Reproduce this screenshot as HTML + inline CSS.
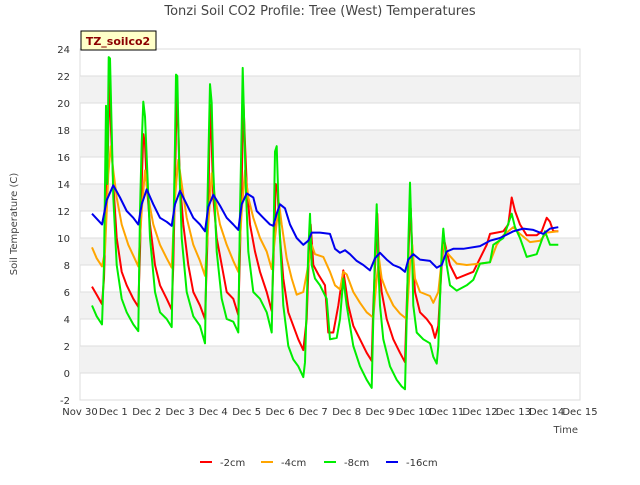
<!DOCTYPE html>
<html><head><meta charset="utf-8"><style>
body{margin:0;background:#fff;font-family:"Liberation Sans",sans-serif;}
svg text{font-family:"DejaVu Sans","Liberation Sans",sans-serif;}
</style></head><body>
<svg id="chart" width="640" height="480" xmlns="http://www.w3.org/2000/svg">
<text x="320" y="15" text-anchor="middle" font-size="13" fill="#444">Tonzi Soil CO2 Profile: Tree (West) Temperatures</text>
<text transform="translate(17,224) rotate(-90)" text-anchor="middle" font-size="10" fill="#444">Soil Temperature (C)</text>
<text x="578" y="433" text-anchor="end" font-size="10" fill="#444">Time</text>
<g id="bands"></g>
<g id="yticks"></g>
<g id="xticks"></g>
<g id="series"></g>
<rect x="81" y="31" width="75" height="19" fill="#ffffc8" stroke="#000" stroke-width="1"/>
<text x="118" y="45" text-anchor="middle" font-size="11" font-weight="bold" fill="#8b0000">TZ_soilco2</text>
<g id="legend"></g>
</svg>
<script>
const xTickLabels=["Nov 30","Dec 1","Dec 2","Dec 3","Dec 4","Dec 5","Dec 6","Dec 7","Dec 8","Dec 9","Dec 10","Dec 11","Dec 12","Dec 13","Dec 14","Dec 15"];
const yTicks=[-2,0,2,4,6,8,10,12,14,16,18,20,22,24];
const seriesNames=["-2cm","-4cm","-8cm","-16cm"];
const redDays=[0.36,0.5,0.66,0.72,0.8,0.84,0.88,0.93,1.0,1.1,1.25,1.4,1.6,1.75,1.8,1.85,1.9,1.95,2.0,2.1,2.25,2.4,2.6,2.75,2.8,2.85,2.9,2.95,3.0,3.1,3.25,3.4,3.6,3.75,3.8,3.85,3.9,3.95,4.0,4.1,4.25,4.4,4.6,4.75,4.8,4.85,4.9,4.95,5.0,5.1,5.25,5.4,5.6,5.75,5.8,5.87,5.92,6.0,6.1,6.25,6.4,6.55,6.7,6.8,6.87,6.92,7.0,7.15,7.35,7.45,7.6,7.75,7.9,8.05,8.2,8.4,8.6,8.75,8.8,8.87,8.92,8.97,9.05,9.2,9.4,9.6,9.75,9.8,9.87,9.92,9.97,10.05,10.2,10.4,10.55,10.65,10.75,10.85,10.92,11.0,11.1,11.3,11.6,11.8,12.0,12.2,12.3,12.5,12.7,12.85,12.95,13.05,13.2,13.4,13.7,13.85,14.0,14.1,14.2,14.35];
const redVals=[6.4,5.8,5.1,7,14,16.8,22,18,14,10,7.5,6.5,5.5,4.9,9,14,17.7,17,14,11,8,6.5,5.5,4.7,8,14,20.9,18,14,11,8,6,5,4.0,8,12,19.9,17,13,10,8,6,5.5,4.3,9,14,20.4,17,14,11,9,7.5,6,4.6,8,14,13.8,10,7,4.5,3.5,2.5,1.7,4,9,11,8,7.3,6.5,3.0,3.0,5,7.6,5,3.5,2.5,1.5,0.9,5,9,11.8,8,6,4,2.5,1.5,0.8,5,10,12.2,9,6,4.5,4,3.5,2.6,3.5,8,9.9,9,8,7.0,7.3,7.5,8.5,9.5,10.3,10.4,10.5,11,13,12,11,10.2,10.2,10.5,11.5,11.2,10.5,10.5];
const orangeDays=[0.36,0.5,0.66,0.75,0.85,0.92,1.0,1.1,1.25,1.45,1.6,1.75,1.85,1.95,2.05,2.2,2.4,2.6,2.75,2.85,2.95,3.05,3.2,3.4,3.6,3.75,3.85,3.95,4.05,4.2,4.4,4.6,4.75,4.85,4.95,5.05,5.2,5.4,5.6,5.75,5.85,5.97,6.05,6.2,6.35,6.5,6.7,6.85,6.95,7.05,7.3,7.5,7.65,7.8,7.9,8.0,8.2,8.4,8.6,8.8,8.9,8.97,9.05,9.2,9.4,9.6,9.8,9.9,9.97,10.05,10.2,10.5,10.6,10.75,10.9,11.05,11.3,11.6,12.0,12.3,12.5,12.7,13.0,13.2,13.5,13.8,14.0,14.35];
const orangeVals=[9.3,8.5,7.9,9,14.7,16.8,15,13,11,9.5,8.7,7.9,12,15,13,11,9.5,8.5,7.8,13,15.8,14,11.5,9.5,8.3,7.2,11,14.8,13,11,9.5,8.3,7.5,12,15,13,11.5,10,9,7.7,10,12.6,11,8.5,7,5.8,6,8,9.5,8.8,8.6,7.5,6.5,6.2,7.5,7.3,6.0,5.2,4.5,4.1,7,8.5,7,6,5,4.4,4.0,8,9.5,7,6,5.7,5.2,6,9.5,8.8,8.1,8.0,8.1,8.2,9.5,10.2,10.8,10.3,9.7,9.8,10.4,10.5];
const greenDays=[0.36,0.5,0.66,0.72,0.78,0.82,0.86,0.9,0.95,1.0,1.1,1.25,1.4,1.6,1.75,1.8,1.85,1.9,1.95,2.0,2.1,2.25,2.4,2.6,2.75,2.8,2.85,2.88,2.92,2.97,3.05,3.2,3.4,3.6,3.75,3.8,3.85,3.9,3.95,4.0,4.1,4.25,4.4,4.6,4.75,4.8,4.85,4.88,4.92,4.97,5.05,5.2,5.4,5.6,5.75,5.8,5.85,5.9,5.95,6.0,6.1,6.25,6.4,6.55,6.7,6.75,6.8,6.85,6.9,6.95,7.05,7.2,7.4,7.5,7.7,7.8,7.9,8.0,8.2,8.4,8.6,8.75,8.8,8.85,8.9,8.95,9.0,9.1,9.3,9.5,9.65,9.75,9.8,9.85,9.9,9.95,10.0,10.1,10.3,10.5,10.6,10.7,10.75,10.85,10.9,11.0,11.1,11.3,11.6,11.8,12.0,12.3,12.4,12.7,12.95,13.05,13.2,13.4,13.7,13.95,14.1,14.35];
const greenVals=[5.0,4.2,3.6,8,19.8,14,23.4,23.3,18,13,8,5.5,4.5,3.6,3.1,12,17,20.1,19,16,10,6,4.5,4.0,3.4,10,17,22.1,22,16,10,6,4.2,3.5,2.2,10,15.6,21.4,20,15,9,5.5,4.0,3.8,3.0,12,18.2,22.6,19,14,9,6,5.5,4.5,3.0,9,16.4,16.8,13,10,5,2,1,0.5,-0.3,0.8,5,9,11.8,8,7,6.5,5.5,2.5,2.6,4,7,5,2,0.5,-0.5,-1.1,4,9,12.5,8,5,2.5,0.5,-0.5,-1.0,-1.2,4,9.5,14.1,10,5,3,2.5,2.2,1.2,0.7,2,9,10.7,8,6.5,6.1,6.5,6.9,8.1,8.2,9.5,10.0,11.8,10.8,10,8.6,8.8,10.5,9.5,9.5];
const blueDays=[0.36,0.55,0.66,0.8,1.0,1.2,1.4,1.6,1.75,1.85,2.0,2.2,2.4,2.6,2.75,2.85,3.0,3.2,3.4,3.6,3.75,3.85,4.0,4.2,4.4,4.6,4.75,4.85,5.0,5.2,5.3,5.5,5.7,5.8,5.9,6.0,6.15,6.3,6.5,6.7,6.85,6.95,7.2,7.5,7.65,7.8,7.95,8.1,8.3,8.5,8.7,8.85,9.0,9.2,9.4,9.6,9.75,9.85,10.0,10.2,10.5,10.7,10.85,11.0,11.2,11.5,12.0,12.3,12.6,13.0,13.3,13.6,13.9,14.1,14.35];
const blueVals=[11.8,11.3,11.0,12.8,13.9,13,12,11.5,11.0,12.5,13.6,12.5,11.5,11.2,10.9,12.5,13.5,12.5,11.5,11.0,10.5,12.3,13.2,12.4,11.5,11.0,10.6,12.5,13.3,13,12,11.5,11.0,10.9,11.8,12.5,12.2,11,10,9.5,9.8,10.4,10.4,10.3,9.2,8.9,9.1,8.8,8.3,8.0,7.6,8.5,8.9,8.4,8.0,7.8,7.5,8.4,8.8,8.4,8.3,7.8,8.0,9.0,9.2,9.2,9.4,9.8,10.0,10.5,10.7,10.6,10.3,10.7,10.8];

const NS="http://www.w3.org/2000/svg";
const L=80,R=580,T=49,B=400,yMin=-2,yMax=24,dMax=15;
function xs(d){return L+(R-L)*d/dMax;}
function ys(v){return B-(B-T)*(v-yMin)/(yMax-yMin);}
function mk(tag,attrs,parent){const e=document.createElementNS(NS,tag);for(const k in attrs)e.setAttribute(k,attrs[k]);parent.appendChild(e);return e;}

const bands=document.getElementById('bands');
const bg=mk('rect',{x:L,y:T,width:R-L,height:B-T,fill:'#fff',stroke:'#ddd'},bands);


for(let i=0;i<yTicks.length-1;i++){
  const v=yTicks[i];
  if(((v/2)%2===0)&&v<=20){
    const r=mk('rect',{x:L,y:ys(v+2),width:R-L,height:ys(v)-ys(v+2),fill:'#f2f2f2'},bands);
    
    
  }
}
const yt=document.getElementById('yticks');
yTicks.forEach(v=>{
  const ln=mk('line',{x1:L,x2:R,y1:ys(v),y2:ys(v),stroke:'#ddd','stroke-width':1},yt);
  
  
  const t=mk('text',{x:L-10,y:ys(v)+4,'text-anchor':'end','font-size':10,fill:'#333'},yt);
  t.textContent=v;
  
  
});
const xt=document.getElementById('xticks');
xTickLabels.forEach((s,i)=>{
  const t=mk('text',{x:xs(i),y:415,'text-anchor':'middle','font-size':10,fill:'#333'},xt);
  t.textContent=s;
  
  
});
const colors=['#ff0000','#ffa500','#00ee00','#0000ee'];
const data=[[redDays,redVals],[orangeDays,orangeVals],[greenDays,greenVals],[blueDays,blueVals]];
const sg=document.getElementById('series');
data.forEach((s,k)=>{
  const pts=s[0].map((d,i)=>xs(d).toFixed(1)+','+ys(s[1][i]).toFixed(1)).join(' ');
  const p=mk('polyline',{points:pts,fill:'none',stroke:colors[k],'stroke-width':2,'stroke-linejoin':'round'},sg);
  
  
});
const lg=document.getElementById('legend');
const lx=[200,261,324,386];
seriesNames.forEach((n,k)=>{
  const g=mk('g',{},lg);
  
  
  mk('line',{x1:lx[k],x2:lx[k]+12,y1:462,y2:462,stroke:colors[k],'stroke-width':2},g);
  const t=mk('text',{x:lx[k]+20,y:466,'font-size':10,fill:'#333'},g);
  t.textContent=n;
});
</script>
</body></html>
